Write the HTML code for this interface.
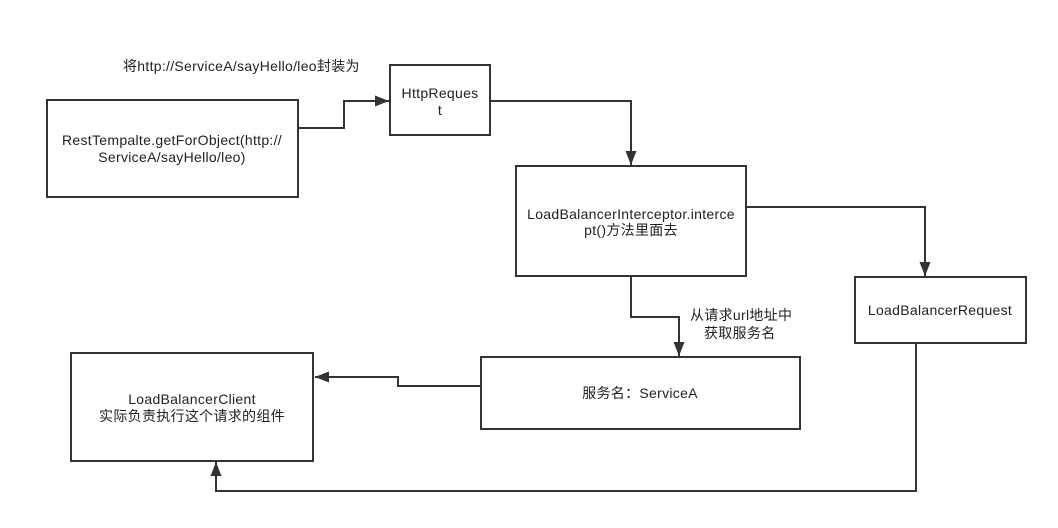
<!DOCTYPE html>
<html><head><meta charset="utf-8"><style>
html,body{margin:0;padding:0;background:#fff;}
svg text{font-family:"Liberation Sans","Noto Sans CJK SC",sans-serif;font-size:14px;fill:#222;letter-spacing:0.3px;}
</style></head><body>
<svg width="1058" height="523" viewBox="0 0 1058 523" xmlns="http://www.w3.org/2000/svg">
<defs><marker id="a" markerWidth="15" markerHeight="11" refX="14" refY="5.5" orient="auto" markerUnits="userSpaceOnUse"><path d="M0,0 L14,5.5 L0,11 z" fill="#333"/></marker></defs>
<g fill="none" stroke="#333" stroke-width="2">
<rect x="47" y="100" width="251" height="97"/>
<rect x="390" y="65" width="100" height="70"/>
<rect x="516" y="166" width="230" height="110"/>
<rect x="855" y="277" width="171" height="66"/>
<rect x="481" y="357" width="319" height="72"/>
<rect x="71" y="353" width="242" height="108"/>
<polyline points="298,128 344,128 344,101 389,101" marker-end="url(#a)"/>
<polyline points="490,101 631,101 631,165" marker-end="url(#a)"/>
<polyline points="746,207 925,207 925,276" marker-end="url(#a)"/>
<polyline points="631,276 631,317 679,317 679,356" marker-end="url(#a)"/>
<polyline points="481,386 398,386 398,377 315,377" marker-end="url(#a)"/>
<polyline points="916,343 916,491 216,491 216,462" marker-end="url(#a)"/>
</g>
<text x="123" y="71">将http://ServiceA/sayHello/leo封装为</text>
<text x="172" y="145" text-anchor="middle">RestTempalte.getForObject(http://</text>
<text x="172" y="162" text-anchor="middle">ServiceA/sayHello/leo)</text>
<text x="440" y="98" text-anchor="middle">HttpReques</text>
<text x="440" y="115" text-anchor="middle">t</text>
<text x="631" y="219" text-anchor="middle">LoadBalancerInterceptor.interce</text>
<text x="631" y="235" text-anchor="middle">pt()方法里面去</text>
<text x="940" y="315" text-anchor="middle">LoadBalancerRequest</text>
<text x="690" y="320">从请求url地址中</text>
<text x="704" y="338">获取服务名</text>
<text x="640" y="398" text-anchor="middle">服务名：ServiceA</text>
<text x="192" y="404" text-anchor="middle">LoadBalancerClient</text>
<text x="192" y="421" text-anchor="middle">实际负责执行这个请求的组件</text>
</svg>
</body></html>
